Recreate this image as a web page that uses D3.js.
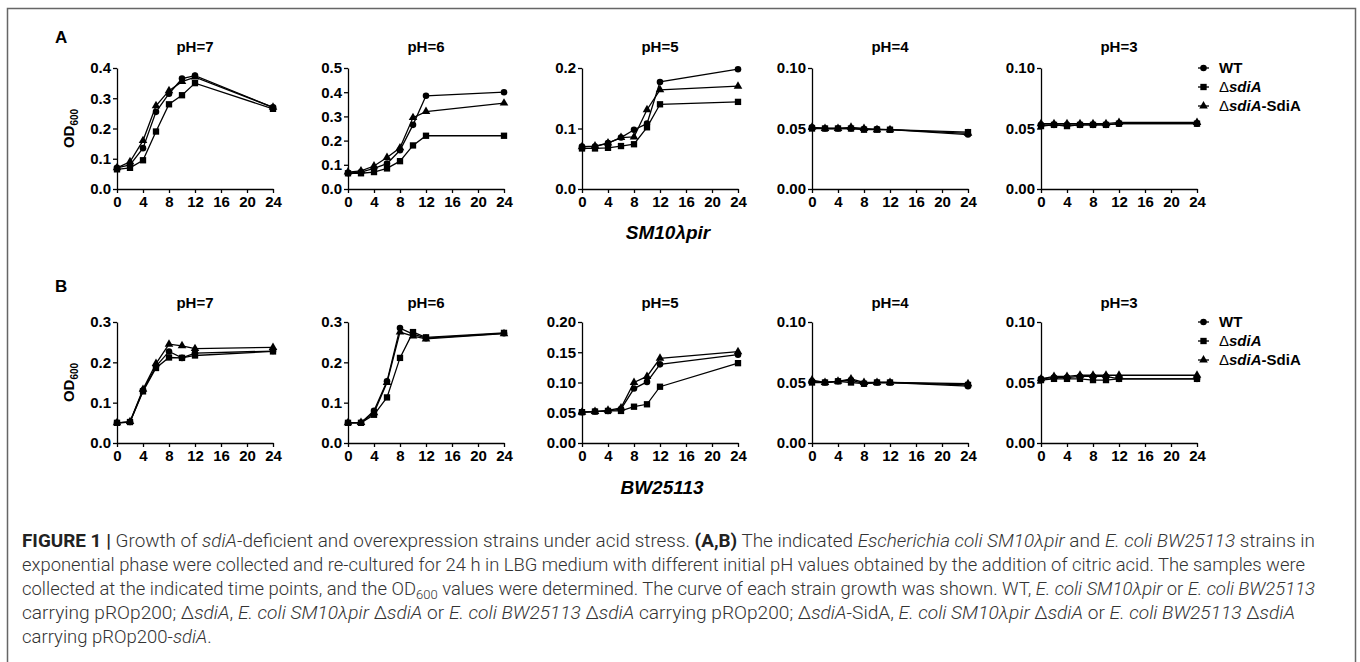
<!DOCTYPE html>
<html>
<head>
<meta charset="utf-8">
<script src="https://cdn.jsdelivr.net/npm/d3@7"></script>
<style>
  body { margin: 0; background: #fff; }
  svg { display: block; font-family: "Liberation Sans", Arial, sans-serif; }
  .axis path, .axis line { stroke: #000; stroke-width: 1.3; }
  .axis text { font-family: "Liberation Sans", Arial, sans-serif; font-size: 15px; font-weight: bold; fill: #000; }
  .caption { font-family: Roboto, "Liberation Sans", sans-serif; font-weight: 300; font-size: 18.5px; fill: #333; }
</style>
</head>
<body>
<script>
(function(){

    // sampling times (h)
    const times = [0, 2, 4, 6, 8, 10, 12, 24];
    const seriesNames = ["WT", "ΔsdiA", "ΔsdiA-SdiA"];
    const phTitles = ["pH=7", "pH=6", "pH=5", "pH=4", "pH=3"];

    // Panel A, SM10λpir  -- each panel: [WT, ΔsdiA, ΔsdiA-SdiA]
    const smPH7 = [
        [0.070, 0.080, 0.135, 0.255, 0.315, 0.365, 0.375, 0.270],
        [0.065, 0.070, 0.095, 0.190, 0.280, 0.310, 0.350, 0.265],
        [0.070, 0.090, 0.160, 0.275, 0.325, 0.355, 0.370, 0.270]
    ];
    const smPH6 = [
        [0.065, 0.070, 0.085, 0.105, 0.160, 0.265, 0.385, 0.400],
        [0.065, 0.065, 0.070, 0.085, 0.115, 0.180, 0.220, 0.220],
        [0.070, 0.075, 0.095, 0.130, 0.170, 0.295, 0.320, 0.355]
    ];
    const smPH5 = [
        [0.070, 0.070, 0.076, 0.085, 0.098, 0.108, 0.177, 0.198],
        [0.067, 0.067, 0.068, 0.071, 0.074, 0.102, 0.140, 0.144],
        [0.070, 0.071, 0.076, 0.085, 0.086, 0.131, 0.164, 0.170]
    ];
    const smPH4 = [
        [0.051, 0.050, 0.050, 0.050, 0.0495, 0.0495, 0.049, 0.045],
        [0.050, 0.050, 0.050, 0.050, 0.049, 0.049, 0.049, 0.047],
        [0.051, 0.050, 0.050, 0.051, 0.050, 0.049, 0.049, 0.046]
    ];
    const smPH3 = [
        [0.053, 0.053, 0.053, 0.053, 0.053, 0.053, 0.054, 0.054],
        [0.052, 0.053, 0.052, 0.053, 0.053, 0.053, 0.054, 0.054],
        [0.054, 0.054, 0.054, 0.054, 0.054, 0.054, 0.055, 0.055]
    ];

    // Panel B, BW25113
    const bwPH7 = [
        [0.050, 0.052, 0.130, 0.190, 0.227, 0.211, 0.223, 0.228],
        [0.050, 0.052, 0.128, 0.186, 0.212, 0.211, 0.217, 0.227],
        [0.050, 0.053, 0.133, 0.197, 0.245, 0.241, 0.234, 0.237]
    ];
    const bwPH6 = [
        [0.050, 0.050, 0.080, 0.153, 0.285, 0.270, 0.260, 0.272],
        [0.050, 0.050, 0.070, 0.113, 0.211, 0.275, 0.262, 0.273],
        [0.050, 0.051, 0.075, 0.150, 0.275, 0.265, 0.258, 0.271]
    ];
    const bwPH5 = [
        [0.051, 0.052, 0.053, 0.056, 0.090, 0.101, 0.130, 0.146],
        [0.051, 0.052, 0.053, 0.053, 0.060, 0.064, 0.093, 0.132],
        [0.051, 0.052, 0.054, 0.058, 0.100, 0.110, 0.140, 0.151]
    ];
    const bwPH4 = [
        [0.051, 0.050, 0.051, 0.052, 0.049, 0.050, 0.050, 0.047],
        [0.050, 0.050, 0.051, 0.050, 0.049, 0.050, 0.050, 0.048],
        [0.052, 0.050, 0.051, 0.053, 0.050, 0.050, 0.050, 0.049]
    ];
    const bwPH3 = [
        [0.053, 0.054, 0.054, 0.055, 0.055, 0.055, 0.053, 0.053],
        [0.052, 0.053, 0.053, 0.053, 0.052, 0.052, 0.053, 0.053],
        [0.053, 0.055, 0.055, 0.056, 0.056, 0.056, 0.056, 0.056]
    ];

    // y axis ranges, steps and decimals per column
    const smYMax = [0.4, 0.5, 0.2, 0.1, 0.1];
    const smYStep = [0.1, 0.1, 0.1, 0.05, 0.05];
    const smYDec = [1, 1, 1, 2, 2];
    const bwYMax = [0.3, 0.3, 0.2, 0.1, 0.1];
    const bwYStep = [0.1, 0.1, 0.05, 0.05, 0.05];
    const bwYDec = [1, 1, 2, 2, 2];

    const width = 1360, height = 662;
    const panelX = [117, 348, 582, 812, 1041];
    const plotW = 156, plotH = 121;

    const svg = d3.select("body").append("svg")
        .attr("width", width)
        .attr("height", height);

    // figure frame
    svg.append("rect")
        .attr("x", 7.5).attr("y", 8.5)
        .attr("width", 1348).attr("height", 700)
        .attr("fill", "none")
        .attr("stroke", "#666")
        .attr("stroke-width", 1.5);

    const symbols = [d3.symbolCircle, d3.symbolSquare, d3.symbolTriangle];
    const symbolSizes = [34, 40, 32];

    function drawPanel(x0, yTop, data, yMax, step, dec, title, titleY) {
        const g = svg.append("g");
        const x = d3.scaleLinear().domain([0, 24]).range([x0, x0 + plotW]);
        const y = d3.scaleLinear().domain([0, yMax]).range([yTop + plotH, yTop]);

        g.append("g")
            .attr("class", "axis")
            .attr("transform", `translate(0,${yTop + plotH})`)
            .call(d3.axisBottom(x).tickValues(d3.range(0, 25, 4))
                .tickSize(4).tickSizeOuter(0).tickPadding(3));

        g.append("g")
            .attr("class", "axis")
            .attr("transform", `translate(${x0},0)`)
            .call(d3.axisLeft(y).tickValues(d3.range(0, yMax + 1e-9, step))
                .tickFormat(d3.format(`.${dec}f`))
                .tickSize(4).tickSizeOuter(0).tickPadding(2));

        g.append("text")
            .attr("x", x0 + plotW / 2)
            .attr("y", titleY)
            .attr("text-anchor", "middle")
            .attr("font-size", 15)
            .attr("font-weight", "bold")
            .text(title);

        const line = d3.line()
            .x((d, i) => x(times[i]))
            .y(d => y(d));

        data.forEach((vals, s) => {
            g.append("path")
                .attr("d", line(vals))
                .attr("fill", "none")
                .attr("stroke", "#000")
                .attr("stroke-width", 1.3);
            g.selectAll(null)
                .data(vals)
                .enter()
                .append("path")
                .attr("d", d3.symbol().type(symbols[s]).size(symbolSizes[s]))
                .attr("transform", (d, i) => `translate(${x(times[i])},${y(d)})`)
                .attr("fill", "#000");
        });
    }

    function drawLegend(yTop) {
        const lg = svg.append("g");
        seriesNames.forEach((name, s) => {
            const ly = yTop + s * 19;
            lg.append("line")
                .attr("x1", 1198).attr("x2", 1209)
                .attr("y1", ly).attr("y2", ly)
                .attr("stroke", "#000").attr("stroke-width", 1.3);
            lg.append("path")
                .attr("d", d3.symbol().type(symbols[s]).size(symbolSizes[s]))
                .attr("transform", `translate(1203.5,${ly})`);
            const t = lg.append("text")
                .attr("x", 1219).attr("y", ly + 5)
                .attr("font-size", 15)
                .attr("font-weight", "bold");
            if (s === 0) {
                t.text("WT");
            } else {
                t.append("tspan").attr("font-weight", "normal").text("Δ");
                t.append("tspan").attr("font-style", "italic").text("sdiA");
                if (s === 2) t.append("tspan").text("-SdiA");
            }
        });
    }

    function drawYLabel(yTop) {
        const t = svg.append("text")
            .attr("transform", `translate(74,${yTop + plotH / 2}) rotate(-90)`)
            .attr("text-anchor", "middle")
            .attr("font-size", 15)
            .attr("font-weight", "bold");
        t.append("tspan").text("OD");
        t.append("tspan").attr("font-size", 10).attr("dy", 4).text("600");
    }

    // Row A
    const smData = [smPH7, smPH6, smPH5, smPH4, smPH3];
    smData.forEach((d, i) => drawPanel(panelX[i], 68, d, smYMax[i], smYStep[i], smYDec[i], phTitles[i], 52));
    drawLegend(68);
    drawYLabel(68);

    // Row B
    const bwData = [bwPH7, bwPH6, bwPH5, bwPH4, bwPH3];
    bwData.forEach((d, i) => drawPanel(panelX[i], 322, d, bwYMax[i], bwYStep[i], bwYDec[i], phTitles[i], 308));
    drawLegend(322);
    drawYLabel(322);

    // panel letters
    svg.append("text").attr("x", 55).attr("y", 43)
        .attr("font-size", 17).attr("font-weight", "bold").text("A");
    svg.append("text").attr("x", 55).attr("y", 292)
        .attr("font-size", 17).attr("font-weight", "bold").text("B");

    // strain labels
    svg.append("text").attr("x", 668).attr("y", 239)
        .attr("text-anchor", "middle").attr("font-size", 19)
        .attr("font-weight", "bold").attr("font-style", "italic").text("SM10λpir");
    svg.append("text").attr("x", 662).attr("y", 494)
        .attr("text-anchor", "middle").attr("font-size", 19)
        .attr("font-weight", "bold").attr("font-style", "italic").text("BW25113");

    // caption: each line is a list of [text, style]
    const captionLines = [
        [["FIGURE 1 | ", "b"], ["Growth of ", ""], ["sdiA", "i"], ["-deficient and overexpression strains under acid stress. ", ""], ["(A,B)", "b"],
         [" The indicated ", ""], ["Escherichia coli SM10λpir", "i"], [" and ", ""], ["E. coli BW25113", "i"], [" strains in", ""]],
        [["exponential phase were collected and re-cultured for 24 h in LBG medium with different initial pH values obtained by the addition of citric acid. The samples were", ""]],
        [["collected at the indicated time points, and the OD", ""], ["600", "sub"], [" values were determined. The curve of each strain growth was shown. WT, ", ""],
         ["E. coli SM10λpir", "i"], [" or ", ""], ["E. coli BW25113", "i"]],
        [["carrying pROp200; Δ", ""], ["sdiA", "i"], [", ", ""], ["E. coli SM10λpir", "i"], [" Δ", ""], ["sdiA", "i"], [" or ", ""], ["E. coli BW25113", "i"],
         [" Δ", ""], ["sdiA", "i"], [" carrying pROp200; Δ", ""], ["sdiA", "i"], ["-SidA, ", ""], ["E. coli SM10λpir", "i"], [" Δ", ""], ["sdiA", "i"],
         [" or ", ""], ["E. coli BW25113", "i"], [" Δ", ""], ["sdiA", "i"]],
        [["carrying pROp200-", ""], ["sdiA", "i"], [".", ""]]
    ];
    const captionWidths = [1293, 1283, 1293, 1273, null];

    captionLines.forEach((parts, li) => {
        const t = svg.append("text")
            .attr("class", "caption")
            .attr("x", 22)
            .attr("y", 547 + li * 24);
        let afterSub = false;
        parts.forEach(([txt, st]) => {
            const ts = t.append("tspan").text(txt);
            if (afterSub) { ts.attr("dy", -4); afterSub = false; }
            if (st === "b") ts.attr("font-weight", "bold").attr("fill", "#222");
            if (st === "i") ts.attr("font-style", "italic");
            if (st === "sub") {
                ts.attr("font-size", 13).attr("dy", 4);
                afterSub = true;
            }
        });
        if (captionWidths[li]) {
            t.attr("textLength", captionWidths[li]).attr("lengthAdjust", "spacingAndGlyphs");
        }
    });

})();
</script>
</body>
</html>
